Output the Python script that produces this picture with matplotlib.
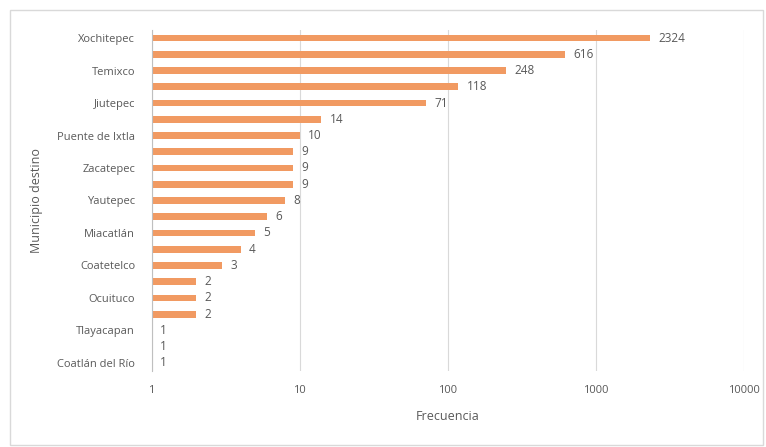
import matplotlib
matplotlib.use("Agg")
import matplotlib.pyplot as plt
from matplotlib.patches import Rectangle

# Data (top to bottom as shown)
categories = ["Xochitepec", "", "Temixco", "", "Jiutepec", "", "Puente de Ixtla", "",
              "Zacatepec", "", "Yautepec", "", "Miacatlán", "", "Coatetelco", "",
              "Ocuituco", "", "Tlayacapan", "", "Coatlán del Río"]
frecuencia = [2324, 616, 248, 118, 71, 14, 10, 9, 9, 9, 8, 6, 5, 4, 3, 2, 2, 2, 1, 1, 1]
xticks = [1, 10, 100, 1000, 10000]

BAR_COLOR = "#F19A62"
TEXT_COLOR = "#595959"
GRID_COLOR = "#D9D9D9"

plt.rcParams['font.family'] = ['Open Sans', 'DejaVu Sans']

fig = plt.figure(figsize=(7.66, 4.47), dpi=100)
ax = fig.add_axes([0.198, 0.170, 0.773, 0.763])

# chart border
fig.patches.append(Rectangle((10 / 766, 2 / 447), 753 / 766, 435 / 447,
                             transform=fig.transFigure, fill=False,
                             edgecolor="#D9D9D9", linewidth=1.0))

ypos = list(range(len(categories)))
# log axis starts at 1, so bars run from 1 to the value
widths = [v - 1 for v in frecuencia]
ax.barh(ypos, widths, left=1, height=0.42, color=BAR_COLOR, zorder=3)
ax.set_xscale('log')
ax.set_xlim(1, 10000)
ax.set_ylim(len(categories) - 0.5, -0.5)

for y, v in zip(ypos, frecuencia):
    ax.annotate(str(v), (v, y), xytext=(6, 0), textcoords='offset points',
                va='center', ha='left', fontsize=8.5, color=TEXT_COLOR)

ax.set_yticks(ypos)
ax.set_yticklabels(categories, fontsize=8, color=TEXT_COLOR)
ax.set_xticks(xticks)
ax.set_xticklabels([str(t) for t in xticks], fontsize=8, color=TEXT_COLOR)
ax.minorticks_off()
ax.tick_params(axis='both', length=0, pad=10)
ax.tick_params(axis='y', pad=12)

ax.grid(axis='x', color=GRID_COLOR, linewidth=0.8, zorder=0)
for side in ['top', 'right', 'bottom']:
    ax.spines[side].set_visible(False)
ax.spines['left'].set_color("#BFBFBF")
ax.spines['left'].set_zorder(4)

ax.set_xlabel("Frecuencia", fontsize=9, color=TEXT_COLOR, labelpad=10)
ax.set_ylabel("Municipio destino", fontsize=9, color=TEXT_COLOR, labelpad=10)

fig.savefig("out.png", dpi=100)
